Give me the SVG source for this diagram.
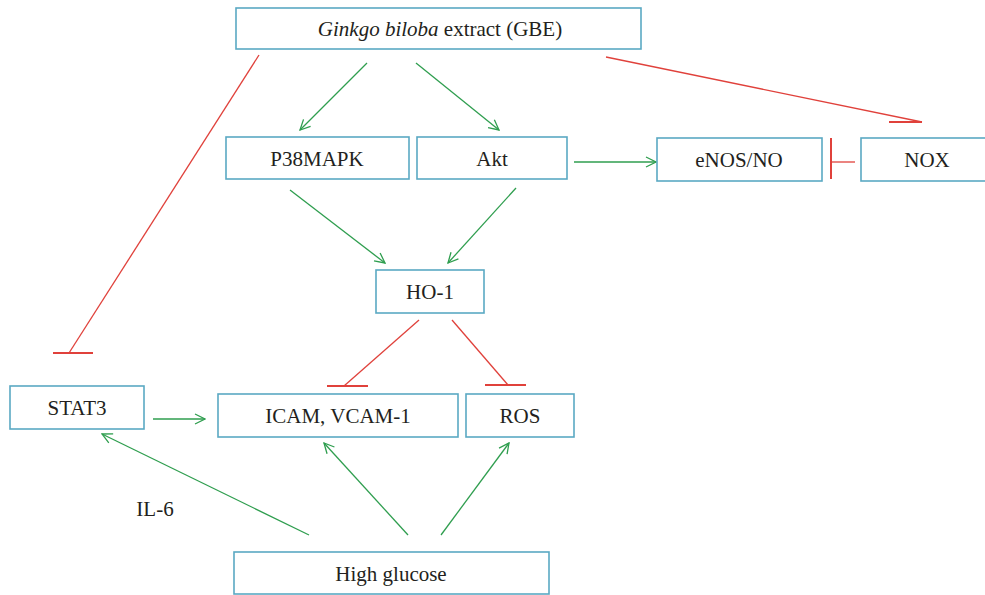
<svg xmlns="http://www.w3.org/2000/svg" width="985" height="595" viewBox="0 0 985 595">
<style>
.box{fill:#ffffff;stroke:#5aa9c3;stroke-width:1.6}
.t{font-family:"Liberation Serif","Times New Roman",serif;font-size:21px;fill:#231f20;text-anchor:middle}
.g{stroke:#2f9e4f;stroke-width:1.3;fill:none;marker-end:url(#arr)}
.r{stroke:#e0413b;stroke-width:1.3;fill:none}
.rb{stroke:#e0413b;stroke-width:2;fill:none}
</style>
<defs>
<marker id="arr" viewBox="0 0 12 12" refX="11" refY="6" markerWidth="12" markerHeight="12" markerUnits="userSpaceOnUse" orient="auto">
<path d="M1,1 L11,6 L1,11" fill="none" stroke="#2f9e4f" stroke-width="1.3"/>
</marker>
</defs>
<rect width="985" height="595" fill="#ffffff"/>
<g id="connectors">
<line class="g" x1="367" y1="63" x2="300" y2="130"/>
<line class="g" x1="416" y1="63" x2="499" y2="130"/>
<line class="g" x1="574" y1="162" x2="656" y2="162"/>
<line class="g" x1="290" y1="190" x2="385" y2="263"/>
<line class="g" x1="516" y1="188" x2="448" y2="263"/>
<line class="g" x1="153" y1="419" x2="205" y2="419"/>
<line class="g" x1="309" y1="535" x2="102" y2="434"/>
<line class="g" x1="408" y1="535" x2="324" y2="443"/>
<line class="g" x1="441" y1="535" x2="509" y2="443"/>
<line class="r" x1="259" y1="55" x2="69" y2="353"/>
<line class="rb" x1="53" y1="353" x2="93" y2="353"/>
<line class="r" x1="606" y1="57" x2="922" y2="122"/>
<line class="rb" x1="889" y1="122" x2="922" y2="122"/>
<line class="r" x1="855" y1="162" x2="831" y2="162"/>
<line class="rb" x1="831" y1="138" x2="831" y2="179"/>
<line class="r" x1="419" y1="320" x2="344" y2="386"/>
<line class="rb" x1="327" y1="386" x2="368" y2="386"/>
<line class="r" x1="452" y1="320" x2="508" y2="385"/>
<line class="rb" x1="485" y1="385" x2="526" y2="385"/>
</g>
<g id="gbe"><rect class="box" x="236" y="8" width="405" height="41"/><text class="t" x="440" y="35.5"><tspan font-style="italic">Ginkgo biloba</tspan> extract (GBE)</text></g>
<g id="p38"><rect class="box" x="226" y="137" width="183" height="42"/><text class="t" x="317" y="165.5">P38MAPK</text></g>
<g id="akt"><rect class="box" x="417" y="137" width="150" height="42"/><text class="t" x="492" y="165.5">Akt</text></g>
<g id="enos"><rect class="box" x="657" y="138" width="165" height="43"/><text class="t" x="739" y="166.5">eNOS/NO</text></g>
<g id="nox"><rect class="box" x="861" y="138" width="132" height="43"/><text class="t" x="927" y="166.5">NOX</text></g>
<g id="ho1"><rect class="box" x="376" y="270" width="108" height="43"/><text class="t" x="430" y="298.5">HO-1</text></g>
<g id="stat3"><rect class="box" x="10" y="386" width="134" height="43"/><text class="t" x="77" y="414.5">STAT3</text></g>
<g id="icam"><rect class="box" x="218" y="394" width="240" height="43"/><text class="t" x="338" y="422.5">ICAM, VCAM-1</text></g>
<g id="ros"><rect class="box" x="466" y="394" width="108" height="43"/><text class="t" x="520" y="422.5">ROS</text></g>
<g id="hg"><rect class="box" x="234" y="552" width="315" height="42"/><text class="t" x="391" y="580.5">High glucose</text></g>
<text class="t" x="155" y="516">IL-6</text>
</svg>
